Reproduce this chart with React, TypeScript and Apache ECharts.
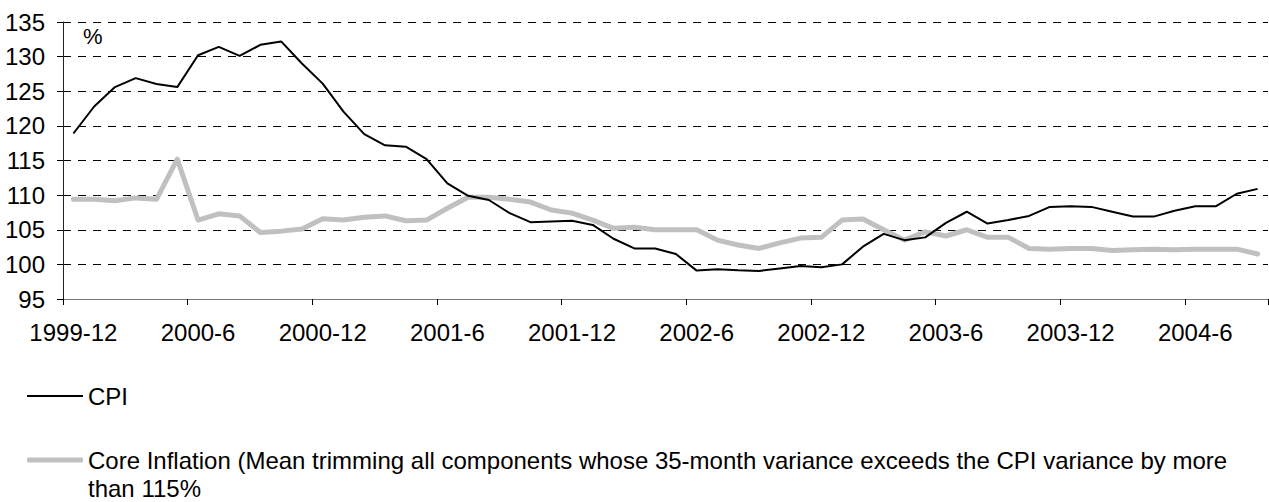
import React, { useEffect, useRef } from 'react';
import * as echarts from 'echarts';

const months: string[] = [
  '1999-12',
  '2000-1', '2000-2', '2000-3', '2000-4', '2000-5', '2000-6', '2000-7', '2000-8', '2000-9', '2000-10', '2000-11', '2000-12',
  '2001-1', '2001-2', '2001-3', '2001-4', '2001-5', '2001-6', '2001-7', '2001-8', '2001-9', '2001-10', '2001-11', '2001-12',
  '2002-1', '2002-2', '2002-3', '2002-4', '2002-5', '2002-6', '2002-7', '2002-8', '2002-9', '2002-10', '2002-11', '2002-12',
  '2003-1', '2003-2', '2003-3', '2003-4', '2003-5', '2003-6', '2003-7', '2003-8', '2003-9', '2003-10', '2003-11', '2003-12',
  '2004-1', '2004-2', '2004-3', '2004-4', '2004-5', '2004-6', '2004-7', '2004-8', '2004-9',
];

const cpi: number[] = [
  118.9, 122.8, 125.6, 126.9, 126.05, 125.6, 130.2, 131.4, 130.1, 131.7,
  132.2, 129.0, 126.1, 122.05, 118.8, 117.2, 117.0, 115.2, 111.7, 109.9,
  109.3, 107.4, 106.1, 106.2, 106.3, 105.7, 103.7, 102.3, 102.3, 101.5,
  99.1, 99.3, 99.15, 99.05, 99.4, 99.75, 99.6, 100.0, 102.55, 104.4,
  103.5, 103.9, 106.0, 107.6, 105.9, 106.4, 107.0, 108.3, 108.4, 108.3,
  107.6, 106.9, 106.9, 107.75, 108.4, 108.4, 110.2, 110.9,
];

const core: number[] = [
  109.4, 109.4, 109.2, 109.6, 109.4, 115.2, 106.4, 107.3, 107.0, 104.6,
  104.8, 105.1, 106.6, 106.4, 106.8, 107.0, 106.3, 106.4, 108.1, 109.7,
  109.7, 109.4, 109.0, 107.85, 107.4, 106.4, 105.2, 105.35, 105.0, 105.0,
  105.0, 103.5, 102.8, 102.3, 103.1, 103.8, 103.9, 106.4, 106.55, 105.0,
  103.5, 104.7, 104.1, 105.0, 103.9, 103.9, 102.3, 102.2, 102.3, 102.3,
  102.0, 102.1, 102.2, 102.1, 102.2, 102.2, 102.2, 101.5,
];

const cpiName = 'CPI';
const coreName =
  'Core Inflation (Mean trimming all components whose 35-month variance exceeds the CPI variance by more than 115%';
const coreLine1 =
  'Core Inflation (Mean trimming all components whose 35-month variance exceeds the CPI variance by more';
const coreLine2 = 'than 115%';
const unitLabel = '%';

const FONT = "'Liberation Sans', Arial, sans-serif";

export default function App() {
  const ref = useRef<HTMLDivElement>(null);

  useEffect(() => {
    if (!ref.current) return;
    const chart = echarts.init(ref.current, undefined, { renderer: 'svg' });
    chart.setOption({
      animation: false,
      backgroundColor: '#ffffff',
      textStyle: { fontFamily: FONT, color: '#000' },
      grid: { left: 63, right: 1, top: 22, bottom: 203, containLabel: false },
      xAxis: {
        type: 'category',
        data: months,
        boundaryGap: true,
        axisLine: { show: true, lineStyle: { color: '#777', width: 1 } },
        axisTick: { show: true, interval: 5, length: 6, lineStyle: { color: '#000' } },
        axisLabel: { interval: 5, margin: 21, fontSize: 24, color: '#000', fontFamily: FONT },
        splitLine: { show: false },
      },
      yAxis: {
        type: 'value',
        min: 95,
        max: 135,
        interval: 5,
        axisLine: { show: true, lineStyle: { color: '#222', width: 1 } },
        axisTick: { show: true, length: 6, lineStyle: { color: '#000' } },
        axisLabel: { margin: 18, fontSize: 24, color: '#000', fontFamily: FONT },
        splitLine: { show: true, lineStyle: { color: '#000', width: 1, type: [8, 7] } },
      },
      legend: [
        {
          data: [{ name: cpiName }],
          left: 27,
          top: 384,
          padding: 0,
          icon: 'rect',
          itemWidth: 56,
          itemHeight: 2,
          selectedMode: false,
          textStyle: { fontSize: 24, color: '#000', fontFamily: FONT },
        },
        {
          data: [{ name: coreName }],
          left: 27,
          top: 418,
          padding: 0,
          icon: 'roundRect',
          itemWidth: 56,
          itemHeight: 5,
          selectedMode: false,
          formatter: () => '\n' + coreLine1 + '\n' + coreLine2,
          textStyle: {
            fontSize: 24,
            lineHeight: 28,
            color: '#000',
            fontFamily: FONT,
          },
        },
      ],
      graphic: [
        {
          type: 'text',
          left: 83,
          top: 25,
          style: { text: unitLabel, fontSize: 22, fill: '#000', fontFamily: FONT },
        },
      ],
      series: [
        {
          name: cpiName,
          type: 'line',
          data: cpi,
          symbol: 'none',
          lineStyle: { color: '#000', width: 2 },
          itemStyle: { color: '#000' },
          z: 3,
        },
        {
          name: coreName,
          type: 'line',
          data: core,
          symbol: 'none',
          lineStyle: { color: '#c0c0c0', width: 5, cap: 'round', join: 'round' },
          itemStyle: { color: '#c0c0c0' },
          z: 2,
        },
      ],
    });
    return () => chart.dispose();
  }, []);

  return (
    <div
      ref={ref}
      style={{ position: 'fixed', left: 0, top: 0, width: 1269, height: 502 }}
    />
  );
}
